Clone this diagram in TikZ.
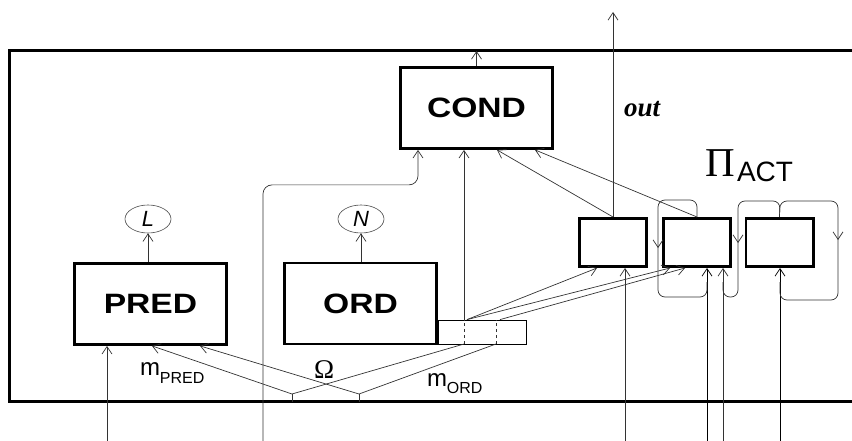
\documentclass[tikz,border=0pt]{standalone}
\usepackage{fontspec}
\setmainfont{Liberation Serif}
\setsansfont{Liberation Sans}
\usetikzlibrary{arrows.meta,calc,shapes.geometric}
\begin{document}
\begin{tikzpicture}[x=1pt,y=-1pt,
  thinln/.style={line width=0.7pt, draw=black!80},
  arr/.style={thinln, -{Straight Barb[length=7.5pt,width=10pt]}},
  bigbox/.style={draw, line width=2.8pt, inner sep=0pt, outer sep=1.4pt,
    minimum width=152pt, minimum height=81pt, font=\fontsize{28}{28}\sffamily\bfseries},
  smallbox/.style={draw, line width=2.6pt, inner sep=0pt, outer sep=1.3pt,
    minimum width=67.4pt, minimum height=48.4pt},
  oval/.style={draw=black!70, line width=0.6pt, ellipse, minimum width=46pt,
    minimum height=28pt, inner sep=0pt, font=\fontsize{22}{22}\sffamily\itshape},
  lbl/.style={anchor=base west, inner sep=0pt, outer sep=0pt},
]
\useasboundingbox (0,0) rectangle (852,441);
\clip (0,0) rectangle (852,441);

% frame
\draw[line width=3pt] (870,51) -- (9.5,51) -- (9.5,401.5) -- (870,401.5);
\coordinate (ftop) at (0,51);

% main boxes
\node[bigbox] (pred) at (150.5,304) {\scalebox{1.2}[1]{PRED}};
\node[bigbox] (ord)  at (360.5,303.5) {\scalebox{1.2}[1]{ORD}};
\node[bigbox] (cond) at (476.5,108) {\scalebox{1.2}[1]{COND}};
\node[draw, line width=0.8pt, inner sep=0pt, minimum width=88pt, minimum height=24pt] (ext) at (482,332) {};

% small boxes
\node[smallbox] (b1) at (613,242.5) {};
\node[smallbox] (b2) at (697,242.5) {};
\node[smallbox] (b3) at (779.5,242.5) {};

% ovals
\node[oval] (L) at (148,219) {L};
\node[oval] (N) at (361,219) {N};
\draw[arr] (L |- pred.north) -- (L.south);
\draw[arr] (N |- ord.north) -- (N.south);

% labels
\node[lbl, font=\fontsize{24}{24}\sffamily] (mp) at (140,375) {m\raisebox{-8pt}{\fontsize{16}{16}\selectfont PRED}};
\node[lbl, font=\fontsize{24}{24}\sffamily] (mo) at (427,386) {m\raisebox{-7pt}{\fontsize{16}{16}\selectfont ORD}};
\node[lbl, font=\fontsize{27}{27}\selectfont] (om) at (314,378) {Ω};
\node[lbl, font=\fontsize{41}{41}\selectfont] (pi) at (705,177) {Π};
\node[lbl, font=\fontsize{28}{28}\sffamily] (act) at (737,182) {ACT};
\node[lbl, font=\fontsize{27}{27}\bfseries\itshape] (out) at (624,117) {out};

% COND output and out line
\draw[arr] (cond.north) -- (cond.north |- ftop);
\coordinate (outend) at (613,12);
\draw[arr] (b1.north) -- (outend);

% small boxes to COND
\draw[arr] (b1.north) -- ([xshift=20.5pt]cond.south);
\draw[arr] (b2.north) -- ([xshift=58.5pt]cond.south);

% curved input to COND
\coordinate (i2) at (263,441);
\draw[arr, rounded corners=9pt] (i2) |- ($(cond.south)+(-58.5,35)$) -- ([xshift=-58.5pt]cond.south);

% ORD extension verticals
\coordinate (d1) at (464,344);
\coordinate (d2) at (496,344);
\draw[thinln, dashed] (d1) -- (d1 |- ext.north);
\draw[thinln, dashed] (d2) -- (d2 |- ext.north);
\draw[arr] (d1 |- ext.north) -- ([xshift=-12.5pt]cond.south);

% ticks and crossing lines
\coordinate (t1) at (292,394);
\coordinate (t2) at (359,394);
\draw[thinln] (t1) -- ++(0,8);
\draw[thinln] (t2) -- ++(0,8);
\draw[arr] (t1) -- ([xshift=1.5pt]pred.south);
\draw[arr] (t2) -- ([xshift=49.5pt]pred.south);
\draw[thinln] (t1) -- (d1);
\draw[thinln] (t2) -- (d2);

% extension to small boxes
\draw[arr] ([xshift=-15pt]ext.north) -- ([xshift=-16pt]b1.south);
\draw[arr] ([xshift=-15pt]ext.north) -- ([xshift=-27pt]b2.south);
\draw[arr] ([xshift=18pt]ext.north) -- ([xshift=-12pt]b2.south);

% inputs from below
\coordinate (i1) at (107,441);
\draw[arr] (i1) -- (i1 |- pred.south);
\coordinate (i3) at (625,441);
\coordinate (i4) at (707,441);
\coordinate (i5) at (723,441);
\coordinate (i6) at (780,441);
\draw[arr] (i3) -- (i3 |- b1.south);
\draw[arr, draw=black] (i4) -- (i4 |- b2.south);
\draw[arr] (i5) -- (i5 |- b2.south);
\draw[arr, draw=black] (i6) -- (i6 |- b3.south);

% feedback loops
\draw[arr, rounded corners=7pt] (b2.north) -- (697,200) -- (658,200) -- (658,248);
\draw[thinln, rounded corners=7pt] (658,246) -- (658,297) -- (707,297) -- (707,282);
\draw[arr, rounded corners=7pt] (b3.north) -- (780,201) -- (738,201) -- (738,243);
\draw[thinln, rounded corners=7pt] (738,241) -- (738,297) -- (723,297) -- (723,282);
\draw[arr, rounded corners=7pt] (b3.north) -- (780,201) -- (838,201) -- (838,240);
\draw[thinln, rounded corners=7pt] (838,238) -- (838,300) -- (780,300) -- (780,282);
\end{tikzpicture}
\end{document}
